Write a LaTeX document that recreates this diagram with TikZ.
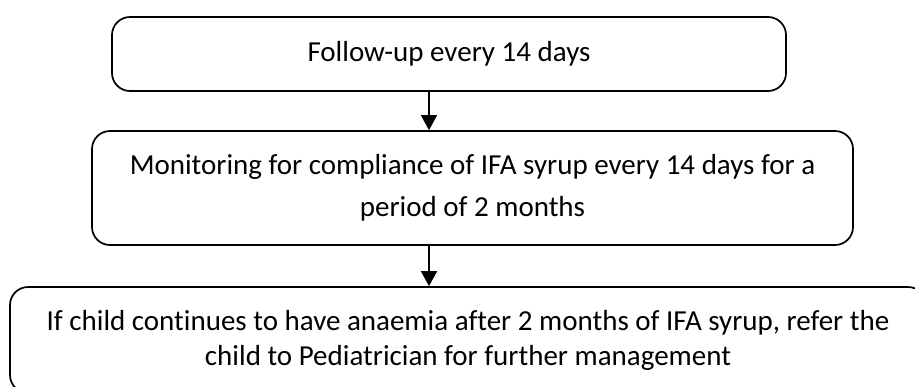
\documentclass[tikz,border=0pt]{standalone}
\usepackage{fontspec}
\setmainfont{Carlito}[Ligatures=NoCommon]
\usetikzlibrary{arrows.meta}

\tikzset{
  flowbox/.style={draw=black, line width=1.7pt, rounded corners=18pt,
    align=center, inner sep=0pt, text=black},
  flowarrow/.style={line width=1.5pt, -{Triangle[length=15pt,width=16pt]}},
}

\begin{document}
\begin{tikzpicture}[x=1pt, y=-1pt]
  \useasboundingbox (0,0) rectangle (915,386);

  % Step 1
  \node[flowbox, minimum width=674pt, minimum height=74pt,
        font=\fontsize{29}{35}\selectfont] (b1) at (449,54)
    {Follow-up every 14 days};

  % Step 2
  \node[flowbox, minimum width=761pt, minimum height=114pt,
        font=\fontsize{29}{42}\selectfont] (b2) at (472.5,188)
    {Monitoring for compliance of IFA syrup every 14 days for a\\period of 2 months};

  % Step 3 (runs past the right and bottom edges)
  \node[flowbox, minimum width=916pt, minimum height=106pt,
        font=\fontsize{29}{35}\selectfont] (b3) at (468,340)
    {If child continues to have anaemia after 2 months of IFA syrup, refer the\\child to Pediatrician for further management};

  % Connectors share one vertical line
  \coordinate (ax) at (429,0);
  \draw[flowarrow] (b1.south -| ax) -- (b2.north -| ax);
  \draw[flowarrow] (b2.south -| ax) -- (b3.north -| ax);
\end{tikzpicture}
\end{document}
